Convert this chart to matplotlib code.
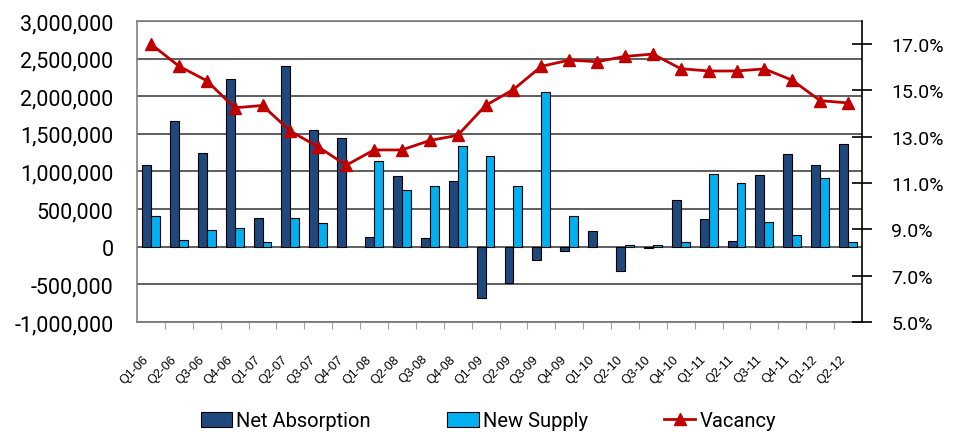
import matplotlib
matplotlib.use("Agg")
import matplotlib.pyplot as plt
import numpy as np
from matplotlib.ticker import FuncFormatter, MultipleLocator

quarters = ["Q1-06", "Q2-06", "Q3-06", "Q4-06", "Q1-07", "Q2-07", "Q3-07", "Q4-07",
            "Q1-08", "Q2-08", "Q3-08", "Q4-08", "Q1-09", "Q2-09", "Q3-09", "Q4-09",
            "Q1-10", "Q2-10", "Q3-10", "Q4-10", "Q1-11", "Q2-11", "Q3-11", "Q4-11",
            "Q1-12", "Q2-12"]

net_absorption = [1080000, 1676000, 1239000, 2227000, 388000, 2399000, 1548000, 1442000,
                  123000, 939000, 110000, 877000, -683000, -485000, -181000, -53000,
                  203000, -322000, -20000, 626000, 375000, 79000, 952000, 1226000,
                  1085000, 1362000]

new_supply = [406000, 88000, 216000, 247000, 57000, 388000, 309000, 0,
              1142000, 754000, 811000, 1336000, 1204000, 811000, 2050000, 406000,
              0, 26000, 26000, 62000, 970000, 847000, 326000, 154000,
              908000, 62000]

vacancy = [17.0, 16.05, 15.42, 14.25, 14.35, 13.24, 12.56, 11.77,
           12.43, 12.43, 12.84, 13.06, 14.35, 15.04, 16.04, 16.31,
           16.24, 16.47, 16.57, 15.94, 15.84, 15.84, 15.93, 15.44,
           14.56, 14.46]

NAVY = "#1F497D"
CYAN = "#00B0F0"
RED = "#C00000"
FONT = ["Roboto", "DejaVu Sans"]


def main():
    x = np.arange(len(quarters))
    w = 0.32

    fig = plt.figure(figsize=(9.57, 4.35), dpi=100)
    ax = fig.add_axes([0.1432, 0.2575, 0.7575, 0.692])

    ax.set_axisbelow(True)
    ax.yaxis.grid(True, color="#333333", linewidth=1.1)
    b1 = ax.bar(x - w / 2, net_absorption, w, color=NAVY, edgecolor="black",
                linewidth=0.8, label="Net Absorption", zorder=3)
    b2 = ax.bar(x + w / 2, new_supply, w, color=CYAN, edgecolor="black",
                linewidth=0.8, label="New Supply", zorder=3)
    # empty quarters show no bar at all
    for bars, vals in ((b1, net_absorption), (b2, new_supply)):
        for p, v in zip(bars, vals):
            if v == 0:
                p.set_visible(False)

    ax.set_xlim(-0.5, len(quarters) - 0.5)
    ax.set_ylim(-1000000, 3000000)
    ax.yaxis.set_major_locator(MultipleLocator(500000))
    ax.yaxis.set_major_formatter(FuncFormatter(lambda v, p: f"{int(v):,}"))
    ax.tick_params(axis="y", length=0, pad=17, labelsize=15.5)
    for lab in ax.get_yticklabels():
        lab.set_family(FONT)

    ax.set_xticks(x)
    ax.set_xticklabels(quarters, rotation=45, ha="right", fontsize=9,
                       family="Liberation Sans")
    ax.tick_params(axis="x", length=0, pad=22)

    for s in ["left", "top", "bottom"]:
        ax.spines[s].set_color("#808080")
        ax.spines[s].set_linewidth(1.2)
    ax.spines["right"].set_visible(False)

    # category axis crossing at zero
    zero = ax.secondary_xaxis(0)
    zero.set_xticks(np.arange(0.5, len(quarters) - 0.5, 1.0))
    zero.tick_params(axis="x", length=5, color="#a0a0a0", labelbottom=False)
    zero.spines["bottom"].set_color("#a0a0a0")
    zero.spines["bottom"].set_linewidth(1.2)

    ax2 = ax.twinx()
    (ln,) = ax2.plot(x, vacancy, color=RED, linewidth=2, marker="^",
                     markersize=9, label="Vacancy", zorder=5)
    ax2.set_ylim(5, 18)
    ax2.set_yticks(np.arange(5, 18, 2))
    ax2.yaxis.set_major_formatter(FuncFormatter(lambda v, p: f"{v:.1f}%"))
    ax2.tick_params(axis="y", direction="inout", length=14, width=1.2,
                    color="black", pad=14, labelsize=14)
    for lab in ax2.get_yticklabels():
        lab.set_family(FONT)
    for s in ["left", "top", "bottom"]:
        ax2.spines[s].set_visible(False)
    ax2.spines["right"].set_color("black")
    ax2.spines["right"].set_linewidth(1.2)

    fig.legend(handles=[b1, b2, ln], loc="center", bbox_to_anchor=(0.5105, 0.03),
               ncol=3, frameon=False, prop={"family": FONT, "size": 14.5},
               handlelength=1.55, handleheight=0.75, handletextpad=0.2,
               columnspacing=3.8)

    fig.savefig("out.png", dpi=100)


if __name__ == "__main__":
    main()
